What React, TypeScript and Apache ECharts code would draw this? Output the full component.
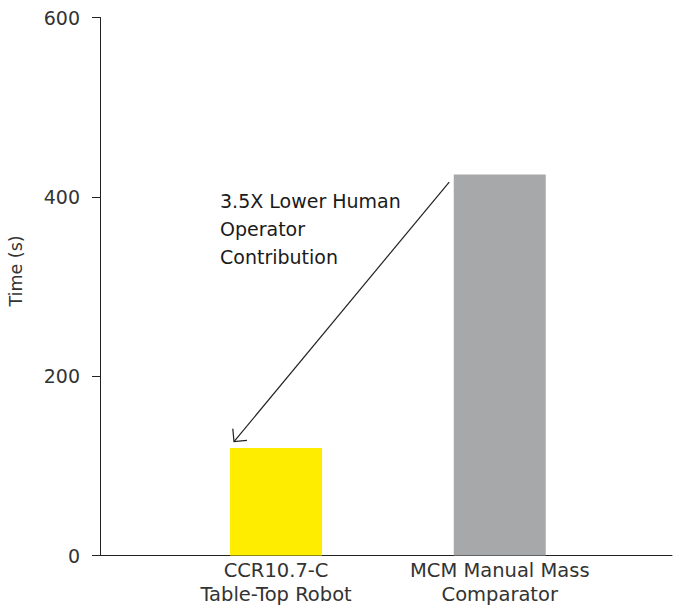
import React, { useEffect, useRef } from "react";
import * as echarts from "echarts";

const categories = ["CCR10.7-C\nTable-Top Robot", "MCM Manual Mass\nComparator"];
const categoryPositions = [0, 1];
const timeValues = [120, 425];
const barColors = ["#FFED00", "#A7A8AA"];
const yTicks = [0, 200, 400, 600];
const annotationLines = ["3.5X Lower Human", "Operator", "Contribution"];
// arrow in data coordinates: [x, y]
const arrowFrom = [0.774, 416.5];
const arrowTo = [-0.188, 127];

const FONT = "DejaVu Sans";

export default function App() {
  const ref = useRef<HTMLDivElement>(null);
  useEffect(() => {
    document.body.style.margin = "0";
    if (!ref.current) return;
    const chart = echarts.init(ref.current, null, { renderer: "svg" });
    chart.setOption({
      animation: false,
      grid: { left: 100, right: 1, top: 17.5, bottom: 55.5, containLabel: false },
      xAxis: {
        type: "value",
        min: -0.787,
        max: 1.77,
        axisLine: { show: true, onZero: false, lineStyle: { color: "#222", width: 1 } },
        axisTick: { show: false },
        splitLine: { show: false },
        axisLabel: {
          customValues: categoryPositions,
          formatter: (v: number) => {
            const i = categoryPositions.indexOf(Math.round(v));
            return i >= 0 ? categories[i] : "";
          },
          color: "#333",
          fontFamily: FONT,
          fontSize: 19.5,
          lineHeight: 24,
          margin: 3,
        },
      },
      yAxis: {
        type: "value",
        min: yTicks[0],
        max: yTicks[yTicks.length - 1],
        interval: 200,
        axisLine: { show: true, onZero: false, lineStyle: { color: "#222", width: 1 } },
        axisTick: { show: true, length: 8, lineStyle: { color: "#222" } },
        splitLine: { show: false },
        axisLabel: { color: "#333", fontFamily: FONT, fontSize: 19, margin: 20 },
      },
      series: [
        {
          type: "bar",
          barWidth: 92,
          data: categoryPositions.map((x, i) => ({
            value: [x, timeValues[i]],
            itemStyle: { color: barColors[i] },
          })),
        },
      ],
    });

    const p0 = chart.convertToPixel({ gridIndex: 0 }, arrowFrom) as number[];
    const p1 = chart.convertToPixel({ gridIndex: 0 }, arrowTo) as number[];
    const dx = p0[0] - p1[0];
    const dy = p0[1] - p1[1];
    const len = Math.sqrt(dx * dx + dy * dy);
    const ux = dx / len;
    const uy = dy / len;
    const headLen = 13;
    const rot = (a: number) => [
      p1[0] + headLen * (ux * Math.cos(a) - uy * Math.sin(a)),
      p1[1] + headLen * (ux * Math.sin(a) + uy * Math.cos(a)),
    ];
    const h1 = rot(Math.PI / 4);
    const h2 = rot(-Math.PI / 4);

    chart.setOption({
      graphic: [
        {
          type: "line",
          shape: { x1: p0[0], y1: p0[1], x2: p1[0], y2: p1[1] },
          style: { stroke: "#222", lineWidth: 1.2 },
        },
        {
          type: "polyline",
          shape: { points: [h1, [p1[0], p1[1]], h2] },
          style: { stroke: "#222", lineWidth: 1.2, fill: null },
        },
        {
          type: "text",
          x: 220,
          y: 187,
          style: {
            text: annotationLines.join("\n"),
            fontFamily: FONT,
            fontSize: 19,
            lineHeight: 27.8,
            fill: "#1a1a1a",
          },
        },
        {
          type: "text",
          x: 16,
          y: 271,
          rotation: Math.PI / 2,
          style: {
            text: "Time (s)",
            fontFamily: FONT,
            fontSize: 17.5,
            fill: "#333",
            align: "center",
            verticalAlign: "middle",
          },
        },
      ],
    });

    return () => chart.dispose();
  }, []);
  return <div ref={ref} style={{ width: 673, height: 611 }} />;
}
